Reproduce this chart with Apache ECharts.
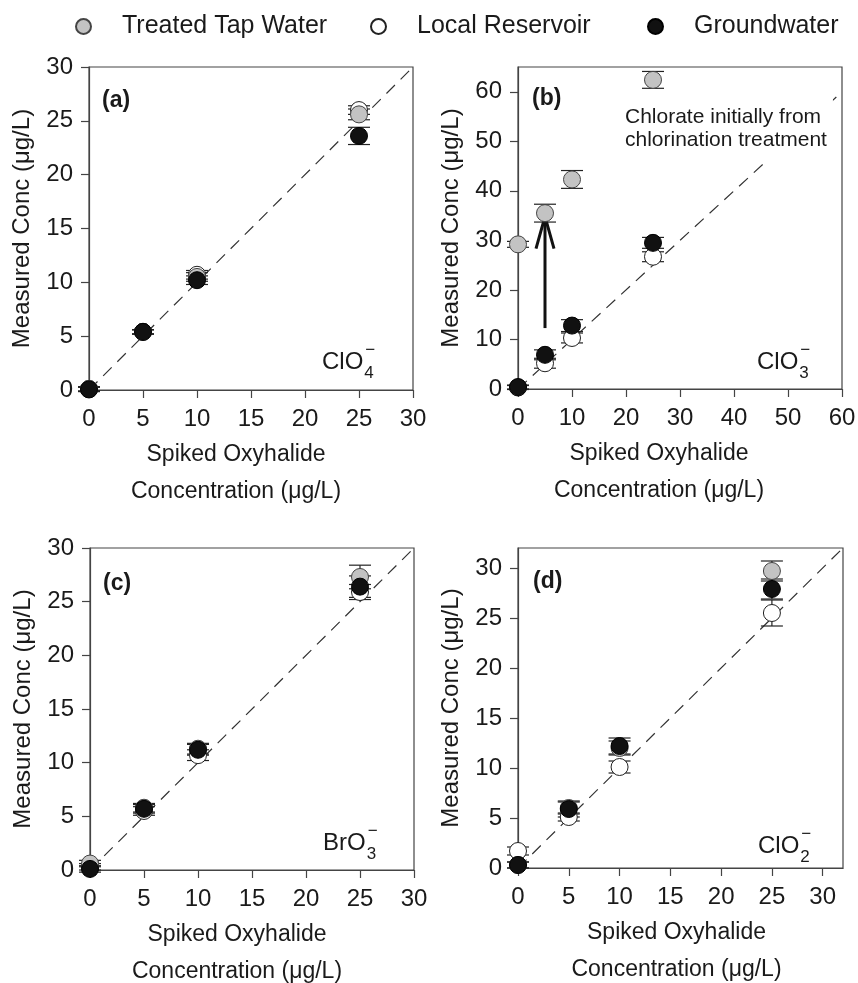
<!DOCTYPE html>
<html>
<head>
<meta charset="utf-8">
<style>
  html, body { margin: 0; padding: 0; background: #fff; }
  #chart { width: 858px; height: 983px; }
</style>
<script src="https://cdn.jsdelivr.net/npm/echarts@6/dist/echarts.min.js"></script>
</head>
<body>
<div id="chart"></div>
<script>
// spiked concentrations (x) shared by all panels
const spiked = [0, 5, 10, 25];

// (a) perchlorate
const aTap = [0.1, 5.4, 10.5, 25.6];
const aTapErr = [0.2, 0.2, 0.4, 0.5];
const aRes = [0.1, 5.4, 10.7, 26.0];
const aResErr = [0.2, 0.2, 0.4, 0.4];
const aGw = [0.05, 5.4, 10.2, 23.6];
const aGwErr = [0.2, 0.2, 0.4, 0.8];

// (b) chlorate
const bTap = [29.2, 35.5, 42.3, 62.4];
const bTapErr = [0.6, 1.8, 1.8, 1.7];
const bRes = [0.3, 5.2, 10.3, 26.7];
const bResErr = [0.4, 1.0, 1.0, 1.0];
const bGw = [0.4, 6.9, 12.8, 29.5];
const bGwErr = [0.4, 1.0, 1.2, 1.1];

// (c) bromate
const cTap = [0.6, 5.8, 11.3, 27.3];
const cTapErr = [0.3, 0.4, 0.5, 1.1];
const cRes = [0.3, 5.5, 10.7, 25.9];
const cResErr = [0.3, 0.4, 0.5, 0.7];
const cGw = [0.1, 5.7, 11.2, 26.4];
const cGwErr = [0.3, 0.4, 0.5, 1.0];

// (d) chlorite
const dTap = [0.3, 6.0, 12.0, 29.7];
const dTapErr = [0.3, 0.6, 0.7, 1.0];
const dRes = [1.7, 5.1, 10.1, 25.5];
const dResErr = [0.4, 0.4, 0.6, 1.3];
const dGw = [0.3, 5.9, 12.2, 27.9];
const dGwErr = [0.3, 0.8, 0.8, 1.0];

// axis ranges / ticks
const xMax = [30, 60, 30, 32];
const yMax = [30, 65, 30, 32];
const xTicks = [[0, 5, 10, 15, 20, 25, 30], [0, 10, 20, 30, 40, 50, 60], [0, 5, 10, 15, 20, 25, 30], [0, 5, 10, 15, 20, 25, 30]];
const yTicks = [[0, 5, 10, 15, 20, 25, 30], [0, 10, 20, 30, 40, 50, 60], [0, 5, 10, 15, 20, 25, 30], [0, 5, 10, 15, 20, 25, 30]];
const oneToOneEnd = [30, 60, 30, 32];

// arrow in panel (b)
const arrowFrom = [5, 12.3];
const arrowTo = [5, 34.8];

const groupNames = ['Treated Tap Water', 'Local Reservoir', 'Groundwater'];
const FONT = '"Liberation Sans", Arial, sans-serif';

const panels = [
  { tap: aTap, tapErr: aTapErr, res: aRes, resErr: aResErr, gw: aGw, gwErr: aGwErr },
  { tap: bTap, tapErr: bTapErr, res: bRes, resErr: bResErr, gw: bGw, gwErr: bGwErr },
  { tap: cTap, tapErr: cTapErr, res: cRes, resErr: cResErr, gw: cGw, gwErr: cGwErr },
  { tap: dTap, tapErr: dTapErr, res: dRes, resErr: dResErr, gw: dGw, gwErr: dGwErr }
];

const grids = [
  { left: 89, top: 67, width: 324, height: 323 },
  { left: 518, top: 67, width: 324, height: 322 },
  { left: 90, top: 548, width: 324, height: 322 },
  { left: 518, top: 548, width: 325, height: 320 }
];
// x title sits a little left of the plot centre in the original
const xNameShift = [30, 42, 30, 8];

const styles = {
  'Treated Tap Water': { color: '#c3c3c3', borderColor: '#444', borderWidth: 1, opacity: 1 },
  'Local Reservoir': { color: '#ffffff', borderColor: '#222', borderWidth: 1, opacity: 1 },
  'Groundwater': { color: '#111111', borderColor: '#000', borderWidth: 1, opacity: 1 }
};

function errorSeries(gi, ys, errs) {
  return {
    type: 'custom',
    xAxisIndex: gi, yAxisIndex: gi,
    z: 2, silent: true, clip: false,
    data: spiked.map((x, i) => [x, ys[i], errs[i]]),
    encode: { x: 0, y: 1 },
    renderItem: function (params, api) {
      const x = api.value(0), y = api.value(1), e = api.value(2);
      const top = api.coord([x, y + e]);
      const bot = api.coord([x, y - e]);
      const hw = 11;
      const st = { stroke: '#222', lineWidth: 1.2 };
      return {
        type: 'group',
        children: [
          { type: 'line', shape: { x1: top[0], y1: top[1], x2: bot[0], y2: bot[1] }, style: st },
          { type: 'line', shape: { x1: top[0] - hw, y1: top[1], x2: top[0] + hw, y2: top[1] }, style: st },
          { type: 'line', shape: { x1: bot[0] - hw, y1: bot[1], x2: bot[0] + hw, y2: bot[1] }, style: st }
        ]
      };
    }
  };
}

function pointSeries(gi, name, ys) {
  return {
    type: 'scatter', name: name,
    xAxisIndex: gi, yAxisIndex: gi,
    z: 3, silent: true, clip: false,
    symbol: 'circle', symbolSize: 17,
    itemStyle: styles[name],
    data: spiked.map((x, i) => [x, ys[i]])
  };
}

const series = [];
panels.forEach(function (p, gi) {
  series.push({
    type: 'line', xAxisIndex: gi, yAxisIndex: gi, silent: true,
    symbol: 'none', z: 1,
    lineStyle: { color: '#333', width: 1.2, type: [12, 8] },
    data: [[0, 0], [oneToOneEnd[gi], oneToOneEnd[gi]]]
  });
  if (gi === 1) {
    series.push({
      type: 'custom', xAxisIndex: 1, yAxisIndex: 1, z: 2, silent: true, clip: false,
      data: [[arrowFrom[0], arrowFrom[1], arrowTo[0], arrowTo[1]]],
      encode: { x: [0, 2], y: [1, 3] },
      renderItem: function (params, api) {
        const p0 = api.coord([api.value(0), api.value(1)]);
        const p1 = api.coord([api.value(2), api.value(3)]);
        const st = { stroke: '#111', lineWidth: 3 };
        return {
          type: 'group',
          children: [
            { type: 'line', shape: { x1: p0[0], y1: p0[1], x2: p1[0], y2: p1[1] }, style: st },
            { type: 'polyline', shape: { points: [[p1[0] - 9, p1[1] + 32], [p1[0], p1[1]], [p1[0] + 9, p1[1] + 32]] }, style: { stroke: '#111', lineWidth: 3, fill: null } }
          ]
        };
      }
    });
  }
  series.push(errorSeries(gi, p.res, p.resErr));
  series.push(pointSeries(gi, 'Local Reservoir', p.res));
  series.push(errorSeries(gi, p.tap, p.tapErr));
  series.push(pointSeries(gi, 'Treated Tap Water', p.tap));
  series.push(errorSeries(gi, p.gw, p.gwErr));
  series.push(pointSeries(gi, 'Groundwater', p.gw));
});

const axisCommon = {
  type: 'value', min: 0,
  axisLine: { show: true, onZero: false, lineStyle: { color: '#444', width: 1.2 } },
  axisTick: { show: true, inside: false, length: 8, lineStyle: { color: '#444', width: 1.2 } },
  splitLine: { show: false },
  axisLabel: { fontSize: 24, color: '#1a1a1a', fontFamily: FONT, margin: 14 },
  nameLocation: 'middle',
  nameTextStyle: { fontSize: 23, color: '#1a1a1a', fontFamily: FONT, lineHeight: 37 }
};

const xAxes = grids.map(function (g, i) {
  return Object.assign({}, axisCommon, {
    gridIndex: i, max: xMax[i], interval: xTicks[i][1],
    axisTick: Object.assign({}, axisCommon.axisTick, { customValues: xTicks[i] }),
    axisLabel: Object.assign({}, axisCommon.axisLabel, { customValues: xTicks[i], margin: 17 }),
    name: 'Spiked Oxyhalide\nConcentration (\u03bcg/L)',
    nameGap: 46,
    nameTextStyle: Object.assign({}, axisCommon.nameTextStyle, { padding: [0, xNameShift[i], 0, 0] })
  });
});
const yAxes = grids.map(function (g, i) {
  return Object.assign({}, axisCommon, {
    gridIndex: i, max: yMax[i], interval: yTicks[i][1],
    axisTick: Object.assign({}, axisCommon.axisTick, { customValues: yTicks[i] }),
    axisLabel: Object.assign({}, axisCommon.axisLabel, { customValues: yTicks[i], margin: 16 }),
    name: 'Measured Conc (\u03bcg/L)',
    nameGap: 48,
    nameTextStyle: Object.assign({}, axisCommon.nameTextStyle, { fontSize: 24 })
  });
});

// text decorations
const ctx = document.createElement('canvas').getContext('2d');
ctx.font = '24px ' + FONT;

function ionLabel(x, y, base, sub) {
  const w = ctx.measureText(base).width;
  return {
    type: 'group', z: 100,
    children: [
      { type: 'text', x: x, y: y, style: { text: base, font: '24px ' + FONT, fill: '#1a1a1a', verticalAlign: 'middle', align: 'left' } },
      { type: 'text', x: x + w + 1, y: y + 11, style: { text: sub, font: '17px ' + FONT, fill: '#1a1a1a', verticalAlign: 'middle', align: 'left' } },
      { type: 'text', x: x + w + 2, y: y - 12, style: { text: '\u2212', font: '17px ' + FONT, fill: '#1a1a1a', verticalAlign: 'middle', align: 'left' } }
    ]
  };
}

function panelTag(x, y, t) {
  return { type: 'text', z: 100, x: x, y: y, style: { text: t, font: 'bold 23px ' + FONT, fill: '#1a1a1a', verticalAlign: 'middle', align: 'left' } };
}

const graphics = [
  panelTag(102, 101, '(a)'),
  panelTag(532, 99, '(b)'),
  panelTag(103, 584, '(c)'),
  panelTag(533, 582, '(d)'),
  ionLabel(322, 362, 'ClO', '4'),
  ionLabel(757, 362, 'ClO', '3'),
  ionLabel(323, 843, 'BrO', '3'),
  ionLabel(758, 846, 'ClO', '2'),
  {
    type: 'text', z: 100, x: 621, y: 94,
    style: {
      text: 'Chlorate initially from\nchlorination treatment',
      font: '21px ' + FONT, fill: '#1a1a1a', lineHeight: 23,
      backgroundColor: '#fff', padding: [12, 6, 12, 4], align: 'left', verticalAlign: 'top'
    }
  }
];

function legendAt(name, left) {
  return {
    data: [name], left: left, top: 9,
    icon: 'circle', itemWidth: 15, itemHeight: 15,
    selectedMode: false,
    textStyle: { fontSize: 25, color: '#1a1a1a', fontFamily: FONT, padding: [0, 0, 0, 26] }
  };
}

const chart = echarts.init(document.getElementById('chart'), null, { renderer: 'canvas' });
chart.setOption({
  backgroundColor: '#fff',
  animation: false,
  legend: [legendAt(groupNames[0], 70), legendAt(groupNames[1], 365), legendAt(groupNames[2], 642)],
  grid: grids.map(g => Object.assign({ show: true, borderColor: '#444', borderWidth: 1.2, backgroundColor: 'transparent', outerBoundsMode: 'none' }, g)),
  xAxis: xAxes,
  yAxis: yAxes,
  series: series,
  graphic: graphics
});
</script>
</body>
</html>
